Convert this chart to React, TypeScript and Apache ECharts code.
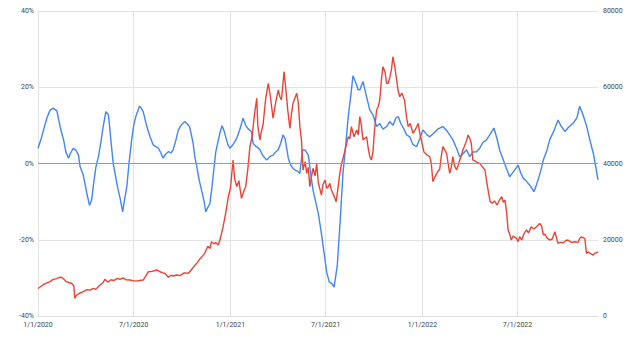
import React, { useEffect, useRef } from "react";
import * as echarts from "echarts";

// Days since 1/1/2020 and values
const blueDays = [0,6,11,17,23,29,36,40,45,49,53,58,61,67,72,77,80,86,89,93,98,102,106,110,115,120,124,129,134,138,143,147,151,156,161,164,169,173,178,182,186,193,196,200,207,213,219,229,233,238,243,248,253,257,262,267,272,279,283,288,291,295,298,302,306,311,316,319,323,327,331,335,338,343,346,350,354,357,361,365,371,378,384,390,395,400,406,409,414,418,422,428,435,441,447,452,457,462,466,470,476,481,485,490,494,498,503,508,514,519,523,528,533,539,546,549,554,559,563,569,574,580,586,590,595,599,605,609,612,618,624,631,637,644,650,656,663,669,675,681,685,690,696,701,707,713,720,726,732,740,745,753,760,770,778,783,789,796,802,808,815,821,827,834,840,846,853,859,867,873,878,885,890,897,905,913,918,923,928,932,937,943,947,951,956,961,968,973,981,989,994,1002,1009,1018,1025,1030,1036,1043,1049,1056,1061,1065];
const bluePct = [4.0,6.5,9,12,14,14.5,13.8,11,8,6,3,1.4,2.5,4,3.5,2.2,-0.8,-3,-5,-8,-11,-9.6,-5,-1,1.8,6,9.7,13.6,12.8,7,0,-3,-6,-9,-12.7,-10,-6,0,6,10,12.3,15,14.6,13.6,9.7,7,4.9,4,3,1.4,2.5,3.1,2.8,3.6,6,8.8,10,11,10.5,9.7,8,5.3,2,-0.8,-4,-7,-10,-12.7,-11.5,-10.5,-6,-0.8,3,6.2,8,9.9,8.5,7,5,4,5,6.6,9,11.9,10,9,8.4,5.3,4.5,4.2,3.6,2,0.9,1.8,2.2,3,3.6,5.5,7.5,6.5,1.4,-0.5,-1.3,-1.8,-2.0,-2.6,3.6,3.5,2.2,-3,-7,-10,-13,-18.4,-25.4,-28.5,-31.1,-31.5,-32.4,-27,-16.6,-2.6,6,12.3,18,23,21,19.3,19.3,21.5,18,14,12.8,9.7,10.5,9,9.7,11,10,12,12.3,10.5,9,7.5,7,5,4.4,6.5,8.8,7.5,7,8,9,9.7,8.5,7.5,6.2,4,1.8,2.5,3.6,1.8,3,3.1,4,5.5,6.2,7.5,9.3,6.5,3.5,0.9,-1,-3.5,-2,-0.4,-2.5,-3.9,-4.5,-5.2,-6,-7.4,-6,-4.3,-2,0.9,3.5,6.2,8.5,11.4,10,8.4,9.5,10.6,12,15,13,10,6.5,2.7,-1,-4.3];

const redDays = [0,6,11,17,23,29,36,40,45,49,53,58,64,68,70,73,78,86,93,99,105,110,118,124,127,133,139,144,151,156,162,167,175,182,190,200,205,210,217,226,232,238,241,248,253,257,264,270,278,286,291,297,302,308,314,317,323,327,330,335,338,343,348,352,357,362,366,371,374,378,382,387,392,395,399,403,407,412,416,418,422,425,428,433,438,442,447,452,457,460,463,468,471,475,479,482,485,492,495,498,501,504,508,511,514,517,520,523,527,530,533,539,542,546,549,552,555,558,563,567,570,574,577,580,584,587,590,593,596,601,606,609,612,615,618,625,628,631,634,637,640,644,647,650,653,656,660,663,666,669,672,675,679,682,685,688,692,697,701,704,708,713,718,723,726,729,734,740,745,748,751,755,760,764,767,770,774,777,780,783,786,789,792,796,799,802,805,808,811,815,818,821,824,827,833,840,846,850,853,857,860,864,868,873,878,882,885,888,891,894,897,900,904,910,913,916,920,924,929,933,938,943,948,951,954,958,961,964,968,973,978,983,986,989,993,999,1004,1008,1014,1021,1027,1030,1034,1037,1040,1043,1047,1049,1053,1056,1059,1062,1065];
const redPrice = [7200,7800,8300,8700,9000,9600,9800,10100,10150,9700,9100,8800,8580,7900,4640,5400,5900,6370,6900,6800,7265,7000,8130,8800,9620,8900,9500,9300,9890,9600,10000,9500,9440,9200,9250,9440,10500,11620,11700,12070,11600,11300,11200,10150,10700,10500,10750,10600,11300,11200,12000,13100,13820,15000,15900,16440,18300,17700,19490,18900,19300,18620,21000,23420,27000,31290,33500,40920,36000,33920,35500,30870,33000,33920,38500,44400,47000,53170,57100,50000,46160,48500,50100,57000,61040,57500,51860,56000,59280,57500,56660,64080,60000,54000,49230,53000,55790,58400,56000,49650,46160,38300,40500,37430,39000,33920,36500,38740,36800,40050,35000,31740,34500,35670,33500,33920,34800,33050,31500,29980,33000,37430,39800,41360,43500,45300,47000,46500,49650,47000,48790,47500,52280,50000,46160,47000,44000,41790,40920,43000,48790,54030,54900,56660,61900,65400,64000,61040,61040,62500,64500,68000,65000,61900,59000,57520,58500,56660,52000,49650,50500,47900,49000,50500,48000,46160,43000,42230,41790,40000,35220,36500,37850,38500,42000,44400,43500,42670,40000,37430,39000,41790,39500,38300,39500,40920,42000,43540,44500,46000,47470,46600,45300,40920,40500,40050,39000,38300,35500,32180,30000,29560,30200,29120,30500,31290,29800,30430,27500,22560,21500,19930,21000,20370,19500,20800,19930,21500,22560,21800,23420,22800,23420,23800,24300,23500,21250,21500,20500,19930,20200,22100,20500,19060,19300,19230,19800,19930,19300,19490,19300,20300,20800,20500,20370,16440,16800,16500,16200,16000,16500,16600,16860];

const xTickDates = ["2020-01-01", "2020-07-01", "2021-01-01", "2021-07-01", "2022-01-01", "2022-07-01"];
const leftTicks = { min: -40, max: 40, interval: 20 };
const rightTicks = { min: 0, max: 80000, interval: 20000 };

const DAY = 86400000;
const START = Date.UTC(2020, 0, 1);
const dateToDay = (s: string) => {
  const [y, m, d] = s.split("-").map(Number);
  return Math.round((Date.UTC(y, m - 1, d) - START) / DAY);
};
const dayToLabel = (n: number) => {
  const d = new Date(START + Math.round(n) * DAY);
  return `${d.getUTCMonth() + 1}/${d.getUTCDate()}/${d.getUTCFullYear()}`;
};

export default function App() {
  const ref = useRef<HTMLDivElement>(null);
  useEffect(() => {
    if (!ref.current) return;
    const chart = echarts.init(ref.current, undefined, { renderer: "svg" });
    const tickDays = xTickDates.map(dateToDay);
    const font = "Roboto, Arial, sans-serif";
    chart.setOption({
      animation: false,
      backgroundColor: "#ffffff",
      grid: { left: 38, right: 42, top: 11, bottom: 29, containLabel: false },
      xAxis: {
        type: "value",
        min: blueDays[0],
        max: blueDays[blueDays.length - 1],
        axisLine: { show: true, onZero: false, lineStyle: { color: "#dcdcdc", width: 1 } },
        axisTick: { show: false, customValues: tickDays },
        axisLabel: {
          customValues: tickDays,
          color: "#444",
          fontSize: 7,
          fontFamily: font,
          margin: 5,
          formatter: (v: number) => dayToLabel(v),
        },
        splitLine: { show: true, lineStyle: { color: "#e3e3e3", width: 1 } },
      },
      yAxis: [
        {
          type: "value",
          position: "left",
          ...leftTicks,
          axisLine: { show: false },
          axisTick: { show: false },
          axisLabel: { color: "#444", fontSize: 7, fontFamily: font, margin: 4, formatter: "{value}%" },
          splitLine: { show: true, lineStyle: { color: "#e3e3e3", width: 1 } },
        },
        {
          type: "value",
          position: "right",
          ...rightTicks,
          axisLine: { show: false },
          axisTick: { show: false },
          axisLabel: {
            color: "#444",
            fontSize: 7,
            fontFamily: font,
            margin: 5,
            formatter: (v: number) => String(v),
          },
          splitLine: { show: false },
        },
      ],
      series: [
        {
          name: "blue",
          type: "line",
          yAxisIndex: 0,
          showSymbol: false,
          symbol: "none",
          data: blueDays.map((d, i) => [d, bluePct[i]]),
          lineStyle: { color: "#4285F4", width: 1.4 },
          itemStyle: { color: "#4285F4" },
          markLine: {
            silent: true,
            symbol: "none",
            label: { show: false },
            lineStyle: { color: "#999999", type: "solid", width: 1 },
            data: [{ yAxis: 0 }],
          },
          z: 3,
        },
        {
          name: "red",
          type: "line",
          yAxisIndex: 1,
          showSymbol: false,
          symbol: "none",
          data: redDays.map((d, i) => [d, redPrice[i]]),
          lineStyle: { color: "#EA4335", width: 1.4 },
          itemStyle: { color: "#EA4335" },
          z: 4,
        },
      ],
    });
    return () => chart.dispose();
  }, []);
  return (
    <div
      ref={ref}
      style={{ position: "absolute", left: 0, top: 0, width: 640, height: 345 }}
    />
  );
}
